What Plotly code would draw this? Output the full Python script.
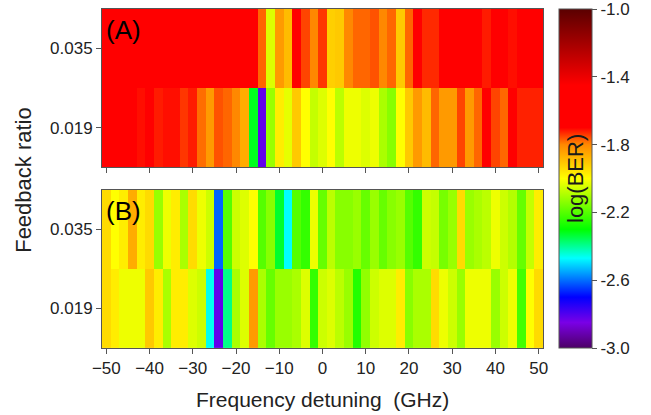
from plotly.subplots import make_subplots
import plotly.graph_objects as go

# frequency detuning (GHz), cell centres
freq = list(range(-50, 51, 2))
ratios = ["0.019", "0.035"]

# log(BER), left to right (-50 .. 50 GHz)
a_035 = [-1.55] * 18 + [
    -1.775, -2.04, -1.83, -1.886, -1.6, -1.75, -1.80, -1.74, -1.92, -1.91,
    -1.80, -1.775, -1.775, -1.76, -1.80, -1.775, -1.91, -1.775, -1.6, -1.73,
    -1.73, -1.55, -1.55, -1.55, -1.55, -1.55, -1.72, -1.55, -1.55, -1.71,
    -1.55, -1.55, -1.55]
a_019 = [
    -1.6, -1.6, -1.6, -1.6, -1.71, -1.70, -1.72, -1.71, -1.71, -1.74,
    -1.72, -1.78, -1.83, -1.76, -1.775, -1.80, -1.86, -2.32, -2.82, -2.12,
    -1.97, -2.03, -1.91, -2.0, -2.07, -2.04, -2.0, -2.08, -2.02, -2.02,
    -2.04, -2.02, -2.10, -2.14, -2.0, -1.91, -1.83, -1.886, -1.775, -1.83,
    -1.83, -1.75, -1.83, -1.775, -1.6, -1.75, -1.775, -1.6, -1.724, -1.724,
    -1.724]
b_035 = [
    -1.94, -2.0, -1.97, -1.86, -1.97, -1.94, -2.12, -2.02, -1.97, -2.10,
    -1.94, -2.02, -2.06, -2.61, -2.2, -2.06, -2.04, -2.0, -2.2, -2.14,
    -2.33, -2.47, -2.2, -2.24, -2.02, -2.18, -2.08, -2.14, -2.14, -2.12,
    -2.18, -2.12, -2.18, -2.14, -2.12, -2.2, -2.24, -2.06, -2.07, -2.16,
    -2.12, -1.94, -2.12, -2.10, -2.08, -2.02, -2.06, -2.09, -2.18, -2.07,
    -1.97]
b_019 = [
    -1.94, -1.97, -2.02, -2.02, -2.02, -1.91, -1.97, -2.10, -1.97, -1.97,
    -2.04, -2.06, -2.46, -2.82, -2.39, -2.10, -2.04, -1.83, -2.10, -2.18,
    -2.12, -2.12, -2.10, -2.04, -2.24, -2.06, -2.04, -2.08, -2.12, -2.26,
    -2.13, -2.06, -2.04, -2.04, -1.97, -2.14, -2.10, -2.10, -1.94, -2.02,
    -2.06, -2.12, -2.02, -2.02, -2.02, -2.12, -2.06, -2.02, -2.22, -2.0,
    -1.94]

cbar_ticks = [-3.0, -2.6, -2.2, -1.8, -1.4, -1.0]

scale = [
    [0.0, "#4d0066"], [0.075, "#7a00e6"], [0.15, "#0000ff"],
    [0.265, "#00ffff"], [0.35, "#00ff00"], [0.5, "#ffff00"],
    [0.6, "#ff8800"], [0.65, "#ff0000"], [0.775, "#ff0000"],
    [1.0, "#5a0000"],
]

font = "Arial, Liberation Sans, sans-serif"
ink = "#222222"

fig = make_subplots(rows=2, cols=1, vertical_spacing=0.0674)

fig.add_trace(go.Heatmap(x=freq, y=ratios, z=[a_019, a_035],
                         coloraxis="coloraxis"), row=1, col=1)
fig.add_trace(go.Heatmap(x=freq, y=ratios, z=[b_019, b_035],
                         coloraxis="coloraxis"), row=2, col=1)

axis_style = dict(showline=True, linecolor="#555555", linewidth=1, mirror=True,
                  ticks="outside", ticklen=5, tickcolor="#555555",
                  showgrid=False, zeroline=False,
                  tickfont=dict(size=17, color=ink, family=font))

fig.update_xaxes(range=[-51, 51], tickvals=list(range(-50, 51, 10)), **axis_style)
fig.update_xaxes(showticklabels=False, row=1, col=1)
fig.update_yaxes(**axis_style)

fig.update_layout(
    width=651, height=415,
    margin=dict(l=102, r=108, t=9, b=67),
    paper_bgcolor="white", plot_bgcolor="white",
    font=dict(family=font, color=ink),
    coloraxis=dict(
        cmin=-3.0, cmax=-1.0, colorscale=scale,
        colorbar=dict(
            x=1.036, xanchor="left", xpad=0, y=0.5, yanchor="middle", ypad=0,
            len=1.0, thickness=33, outlinecolor="#555555", outlinewidth=1,
            tickvals=cbar_ticks, ticktext=[f"{v:.1f}" for v in cbar_ticks],
            ticks="outside", ticklen=5, tickcolor="#555555",
            ticklabeloverflow="allow",
            tickfont=dict(size=17, color=ink, family=font),
        ),
    ),
    annotations=[
        dict(text="(A)", xref="x domain", yref="y domain", x=0.005, y=0.975,
             xanchor="left", yanchor="top", showarrow=False,
             font=dict(size=26, color="black", family=font)),
        dict(text="(B)", xref="x2 domain", yref="y2 domain", x=0.005, y=0.975,
             xanchor="left", yanchor="top", showarrow=False,
             font=dict(size=26, color="black", family=font)),
        dict(text="Feedback ratio", xref="paper", yref="paper", x=-0.177, y=0.496,
             xanchor="center", yanchor="middle", textangle=-90, showarrow=False,
             font=dict(size=22, color=ink, family=font)),
        dict(text="Frequency detuning  (GHz)", xref="paper", yref="paper",
             x=0.5, y=-0.153, xanchor="center", yanchor="middle", showarrow=False,
             font=dict(size=21, color=ink, family=font)),
        dict(text="log(BER)", xref="paper", yref="paper", x=1.0737, y=0.5,
             xanchor="center", yanchor="middle", textangle=-90, showarrow=False,
             font=dict(size=22, color="#1a1a1a", family=font)),
    ],
)

# drop the default 8px page margin so the figure sits at the window corner
fig.write_html("out.html", config={"displayModeBar": False},
               post_script="document.body.style.margin = '0';")
